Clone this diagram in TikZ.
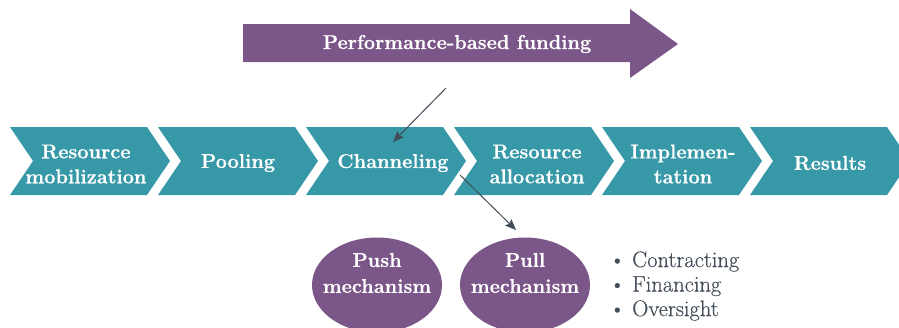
\documentclass[tikz,border=0pt]{standalone}
\usepackage{fontspec}
\setmainfont{Latin Modern Roman}[BoldFeatures={FakeBold=0.6}]
\newfontfamily\listfont{Latin Modern Roman}[FakeBold=0.35]
\usetikzlibrary{arrows.meta,shapes.geometric}
\definecolor{tealc}{HTML}{3799A8}
\definecolor{purp}{HTML}{7B5689}
\definecolor{darkg}{HTML}{434D58}
\tikzset{
  chevtext/.style={text=white,font=\fontsize{20}{25}\selectfont\bfseries,align=center,inner sep=0pt},
  mech/.style={ellipse,fill=purp,draw=none,minimum width=130pt,minimum height=95pt,inner sep=0pt},
  mechtext/.style={text=white,font=\fontsize{20}{26}\selectfont\bfseries,align=center,inner sep=0pt},
  conn/.style={draw=darkg,line width=1pt,-{Stealth[length=11pt,width=9pt,inset=2pt]}},
}
\begin{document}
\begin{tikzpicture}[x=1pt,y=-1pt]
\useasboundingbox (0,0) rectangle (899,327);
\clip (0,0) rectangle (899,327);
% big arrow
\fill[purp] (243,24) -- (630,24) -- (630,9) -- (678,44) -- (630,78) -- (630,62) -- (243,62) -- cycle;
\node[text=white,font=\fontsize{20}{23}\selectfont\bfseries,inner sep=0pt] (pbf) at (457,44) {Performance-based funding};
% chevrons
\foreach \i in {0,...,5}{
  \pgfmathsetmacro{\xo}{10+148*\i}
  \fill[tealc] (\xo,127) -- (\xo+137,127) -- (\xo+160,161) -- (\xo+137,195) -- (\xo,195) -- (\xo+23,161) -- cycle;
}
\node[chevtext] (t1) at (86,164) {Resource\\mobilization};
\node[chevtext] (t2) at (238,163) {Pooling};
\node[chevtext] (t3) at (393,163) {Channeling};
\node[chevtext] (t4) at (537,164) {Resource\\allocation};
\node[chevtext] (t5) at (683,164) {Implemen-\\tation};
\node[chevtext] (t6) at (830,163) {Results};
% ellipses
\node[mech] (push) at (377,285) {};
\node[mechtext] (pusht) at (377,273) {Push\\mechanism};
\node[mech] (pull) at (525,285) {};
\node[mechtext] (pullt) at (525,273) {Pull\\mechanism};
% bullet list
\node[text=darkg,font=\fontsize{22.5}{24.5}\selectfont\listfont,align=left,anchor=west,inner sep=0pt] (list) at (609,286)
 {\textbullet\ Contracting\\\textbullet\ Financing\\\textbullet\ Oversight};
% connectors
\coordinate (a1s) at (446,88);
\coordinate (a1e) at (393,142);
\coordinate (a2s) at (460,175);
\coordinate (a2e) at (516,230);
\draw[conn] (a1s) -- (a1e);
\draw[conn] (a2s) -- (a2e);
\end{tikzpicture}
\end{document}
